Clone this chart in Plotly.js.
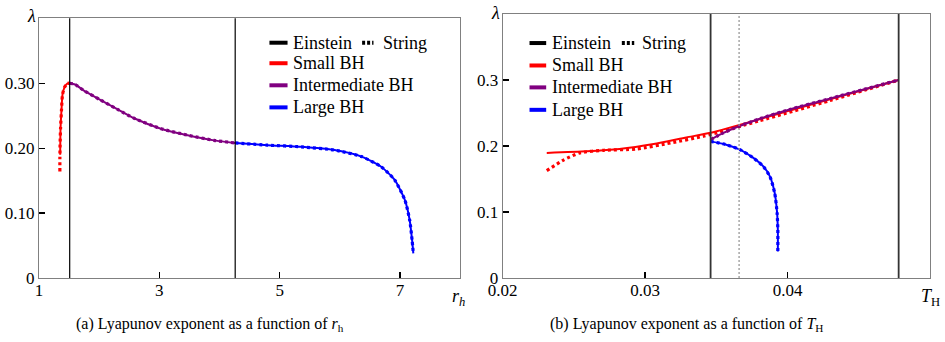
<!DOCTYPE html>
<html>
<head>
<meta charset="utf-8">
<script src="https://cdn.plot.ly/plotly-3.0.1.min.js"></script>
<style>
  html, body { margin: 0; padding: 0; background: #fff; }
  #chart { width: 945px; height: 342px; }
</style>
</head>
<body>
<div id="chart"></div>
<script>
// ---- Panel (a): Lyapunov exponent vs horizon radius r_h ----
const aSmallStringR   = [1.347, 1.347, 1.350, 1.358, 1.375, 1.390, 1.425, 1.470, 1.510];
const aSmallStringL   = [0.164, 0.184, 0.205, 0.230, 0.261, 0.282, 0.294, 0.2995, 0.300];
const aSmallEinsteinR = [1.352, 1.358, 1.375, 1.390, 1.425, 1.470, 1.510];
const aSmallEinsteinL = [0.190, 0.230, 0.261, 0.282, 0.294, 0.2995, 0.300];
const aInterR = [1.51, 1.60, 1.74, 2.025, 2.30, 2.58, 3.025, 3.47, 3.91, 4.26];
const aInterL = [0.300, 0.298, 0.289, 0.274, 0.260, 0.246, 0.230, 0.220, 0.212, 0.208];
const aLargeR = [4.26, 4.80, 5.36, 5.91, 6.36, 6.69, 6.91, 7.08, 7.16, 7.20, 7.22];
const aLargeL = [0.208, 0.2046, 0.202, 0.197, 0.187, 0.171, 0.151, 0.120, 0.089, 0.058, 0.038];
const aTransitions = [1.51, 4.26];

// ---- Panel (b): Lyapunov exponent vs Hawking temperature T_H ----
const bSmallEinsteinT = [0.0231, 0.0259, 0.0282, 0.0306, 0.0329, 0.0346, 0.0411, 0.0478];
const bSmallEinsteinL = [0.1895, 0.192, 0.1955, 0.203, 0.213, 0.220, 0.2594, 0.300];
const bSmallStringT   = [0.0231, 0.0243, 0.0254, 0.0271, 0.0294, 0.0318, 0.0341, 0.0380, 0.0430, 0.0478];
const bSmallStringL   = [0.1626, 0.179, 0.1895, 0.1935, 0.1955, 0.2047, 0.2148, 0.2380, 0.2690, 0.300];
const bInterT = [0.0346, 0.0355, 0.0366, 0.0380, 0.04015, 0.0430, 0.0478];
const bInterL = [0.2097, 0.2199, 0.2300, 0.2410, 0.2553, 0.2720, 0.300];
const bLargeT = [0.0346, 0.0357, 0.03666, 0.0376, 0.0383, 0.03876, 0.0391, 0.03927, 0.03932, 0.03932];
const bLargeL = [0.207, 0.202, 0.1945, 0.182, 0.169, 0.154, 0.1287, 0.098, 0.073, 0.040];
const bTransitions = [0.0346, 0.0478];
const bCritical = [0.0366];

// ---- Tick labels ----
const aXTicks = [1, 3, 5, 7];
const aYTicks = [0, 0.1, 0.2, 0.3];
const aYText  = ['0', '0.10', '0.20', '0.30'];
const bXTicks = [0.02, 0.03, 0.04];
const bXText  = ['0.02', '0.03', '0.04'];
const bYTicks = [0, 0.1, 0.2, 0.3];
const bYText  = ['0', '0.1', '0.2', '0.3'];

const RED = '#ff0000', PURPLE = '#800080', BLUE = '#0000ff';
const FONT = 'Liberation Serif';
const LEG = 18, TICK = 17, CAP = 16;

function solid(x, y, color, xa, ya) {
  return { x, y, xaxis: xa, yaxis: ya, mode: 'lines', showlegend: false, hoverinfo: 'skip',
           line: { color, width: 2, shape: 'spline', smoothing: 0.6 } };
}
function dotted(x, y, color, xa, ya) {
  return { x, y, xaxis: xa, yaxis: ya, mode: 'lines', showlegend: false, hoverinfo: 'skip',
           line: { color, width: 3.2, dash: '3px,3px', shape: 'spline', smoothing: 0.6 } };
}

const data = [
  // panel (a)
  solid(aSmallEinsteinR, aSmallEinsteinL, RED, 'x', 'y'),
  solid(aInterR, aInterL, PURPLE, 'x', 'y'),
  solid(aLargeR, aLargeL, BLUE, 'x', 'y'),
  dotted(aSmallStringR, aSmallStringL, RED, 'x', 'y'),
  dotted(aInterR, aInterL, PURPLE, 'x', 'y'),
  dotted(aLargeR, aLargeL, BLUE, 'x', 'y'),
  // panel (b)
  solid(bSmallEinsteinT, bSmallEinsteinL, RED, 'x2', 'y2'),
  solid(bInterT, bInterL, PURPLE, 'x2', 'y2'),
  solid(bLargeT, bLargeL, BLUE, 'x2', 'y2'),
  dotted(bSmallStringT, bSmallStringL, RED, 'x2', 'y2'),
  dotted(bInterT, bInterL, PURPLE, 'x2', 'y2'),
  dotted(bLargeT, bLargeL, BLUE, 'x2', 'y2')
];

const shapes = [];
aTransitions.forEach(v => shapes.push({ type: 'line', xref: 'x', yref: 'y domain', x0: v, x1: v, y0: 0, y1: 1,
  line: { color: '#000', width: 1.2 }, layer: 'above' }));
bTransitions.forEach(v => shapes.push({ type: 'line', xref: 'x2', yref: 'y2 domain', x0: v, x1: v, y0: 0, y1: 1,
  line: { color: '#333', width: 1.8 }, layer: 'above' }));
bCritical.forEach(v => shapes.push({ type: 'line', xref: 'x2', yref: 'y2 domain', x0: v, x1: v, y0: 0, y1: 1,
  line: { color: '#999', width: 1.3, dash: '2px,2px' }, layer: 'above' }));

const annotations = [];

// Hand-built legend: line style row, then one row per branch colour
function addLegend(xr, yr, sw0, sw1, tx, sw2, sw3, tx2, rows) {
  const entries = [
    { color: '#000', label: 'Einstein' },
    { color: RED, label: 'Small BH' },
    { color: PURPLE, label: 'Intermediate BH' },
    { color: BLUE, label: 'Large BH' }
  ];
  entries.forEach((e, i) => {
    shapes.push({ type: 'line', xref: xr, yref: yr, x0: sw0, x1: sw1, y0: rows[i], y1: rows[i],
      line: { color: e.color, width: 4 } });
    annotations.push({ xref: xr, yref: yr, x: tx, y: rows[i], xanchor: 'left', yanchor: 'middle',
      text: e.label, showarrow: false, font: { family: FONT, size: LEG, color: '#000' } });
  });
  shapes.push({ type: 'line', xref: xr, yref: yr, x0: sw2, x1: sw3, y0: rows[0], y1: rows[0],
    line: { color: '#000', width: 4, dash: '3px,2px' } });
  annotations.push({ xref: xr, yref: yr, x: tx2, y: rows[0], xanchor: 'left', yanchor: 'middle',
    text: 'String', showarrow: false, font: { family: FONT, size: LEG, color: '#000' } });
}
addLegend('x domain', 'y domain', 0.547, 0.590, 0.598, 0.767, 0.794, 0.812, [0.906, 0.827, 0.742, 0.657]);
addLegend('x2 domain', 'y2 domain', 0.063, 0.102, 0.111, 0.279, 0.308, 0.322, [0.89, 0.805, 0.722, 0.637]);

// Axis titles placed at the axis ends
annotations.push({ xref: 'x domain', yref: 'y domain', x: 0, y: 1, xanchor: 'right', yanchor: 'middle',
  xshift: -1, yshift: 2, text: '<i>λ</i>', showarrow: false, font: { family: FONT, size: LEG, color: '#000' } });
annotations.push({ xref: 'x2 domain', yref: 'y2 domain', x: 0, y: 1, xanchor: 'right', yanchor: 'middle',
  xshift: -1, yshift: 1, text: '<i>λ</i>', showarrow: false, font: { family: FONT, size: LEG, color: '#000' } });
annotations.push({ xref: 'x domain', yref: 'y domain', x: 1, y: 0, xanchor: 'center', yanchor: 'top',
  xshift: -2, yshift: -6, text: '<i>r</i><sub><i>h</i></sub>', showarrow: false,
  font: { family: FONT, size: LEG, color: '#000' } });
annotations.push({ xref: 'x2 domain', yref: 'y2 domain', x: 1, y: 0, xanchor: 'center', yanchor: 'top',
  xshift: 0, yshift: -6, text: '<i>T</i><sub>H</sub>', showarrow: false,
  font: { family: FONT, size: LEG, color: '#000' } });

// Sub-figure captions
annotations.push({ xref: 'paper', yref: 'paper', x: 0.192, y: -0.178, xanchor: 'center', yanchor: 'middle',
  text: '(a) Lyapunov exponent as a function of <i>r</i><sub>h</sub>', showarrow: false,
  font: { family: FONT, size: CAP, color: '#000' } });
annotations.push({ xref: 'paper', yref: 'paper', x: 0.727, y: -0.178, xanchor: 'center', yanchor: 'middle',
  text: '(b) Lyapunov exponent as a function of <i>T</i><sub>H</sub>', showarrow: false,
  font: { family: FONT, size: CAP, color: '#000' } });

const axisCommon = {
  showgrid: false, zeroline: false, showline: true, mirror: true, linecolor: '#808080', linewidth: 1,
  ticks: 'inside', ticklen: 6, tickcolor: '#000', tickwidth: 1.2,
  tickfont: { family: FONT, size: TICK, color: '#000' }, tickmode: 'array'
};

const layout = {
  width: 945, height: 342,
  margin: { l: 38.5, r: 15, t: 14, b: 64 },
  paper_bgcolor: '#fff', plot_bgcolor: '#fff',
  font: { family: FONT },
  showlegend: false,
  xaxis: Object.assign({}, axisCommon, { domain: [0, 0.4728], range: [1, 8], tickvals: aXTicks, anchor: 'y', ticklabelstandoff: -3 }),
  yaxis: Object.assign({}, axisCommon, { domain: [0, 0.9837], range: [0, 0.4], tickvals: aYTicks, ticktext: aYText, anchor: 'x' }),
  xaxis2: Object.assign({}, axisCommon, { domain: [0.5203, 1], range: [0.02, 0.05], tickvals: bXTicks, ticktext: bXText, anchor: 'y2', ticklabelstandoff: -3 }),
  yaxis2: Object.assign({}, axisCommon, { domain: [0, 1], range: [0, 0.4], tickvals: bYTicks, ticktext: bYText, anchor: 'x2' }),
  shapes, annotations
};

Plotly.newPlot('chart', data, layout, { displayModeBar: false, staticPlot: true });
</script>
</body>
</html>
